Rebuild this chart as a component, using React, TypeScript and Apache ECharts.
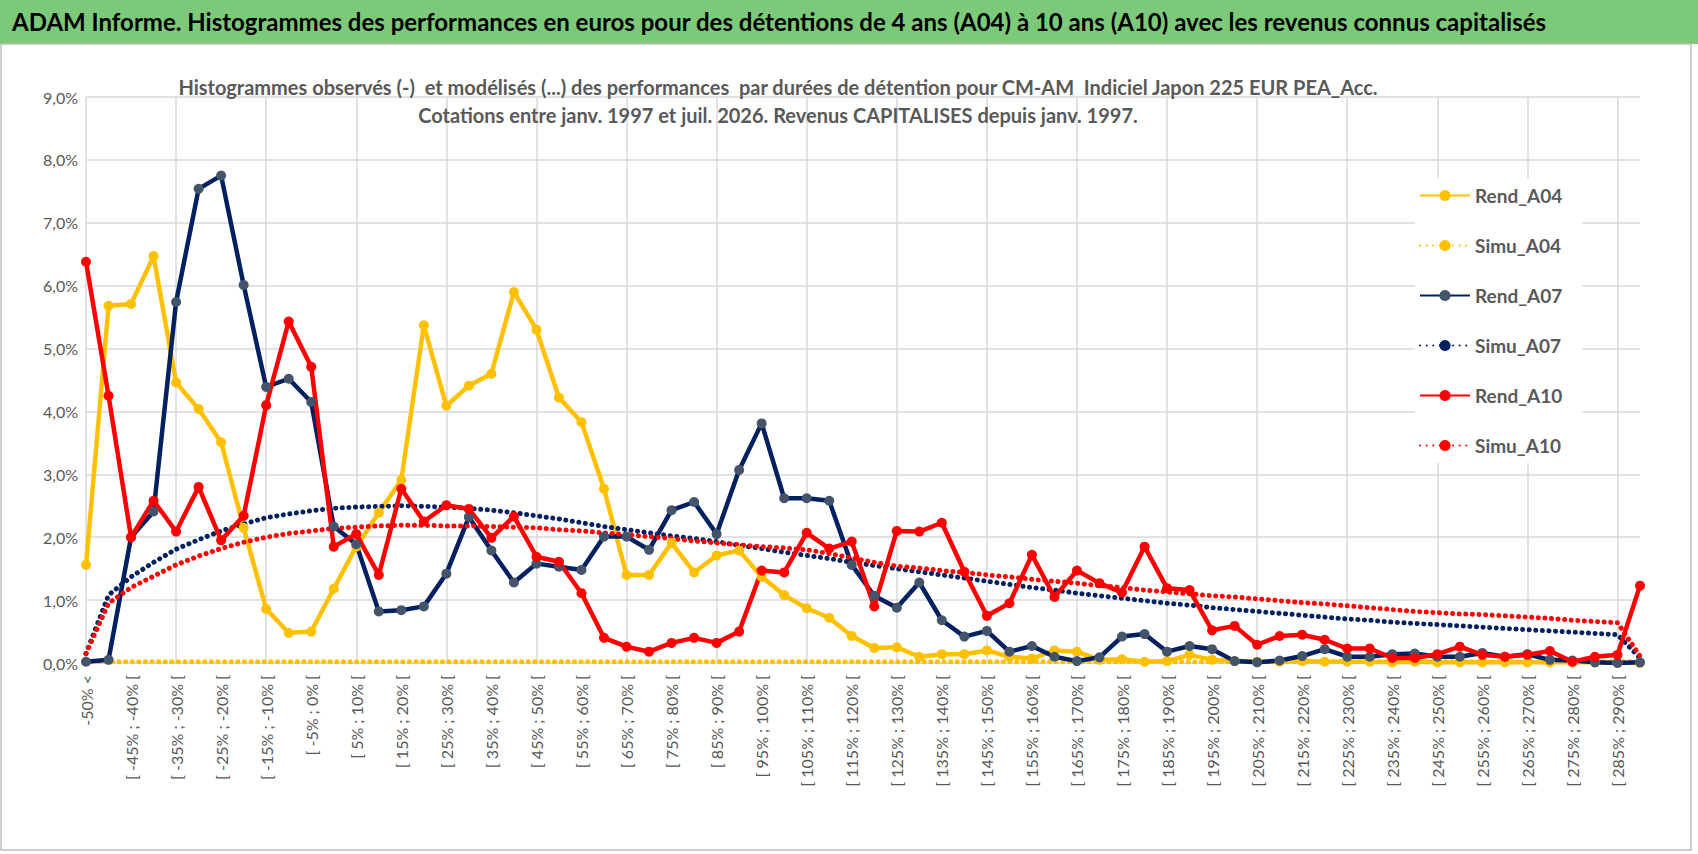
import React, { useEffect, useRef } from 'react';
import * as echarts from 'echarts';

// one class every 5 %, first one is "-50% <"
const categories: string[] = ['-50% <'];
for (let k = 1; k < 70; k++) {
  categories.push('[ ' + (-55 + 5 * k) + '% ; ' + (-50 + 5 * k) + '% [');
}

const rendA04 = [
  1.56, 5.68, 5.71, 6.47, 4.46, 4.04, 3.51, 2.15, 0.86, 0.48, 0.5, 1.18, 1.85, 2.39, 2.91, 5.37,
  4.09, 4.41, 4.6, 5.9, 5.3, 4.22, 3.83, 2.77, 1.4, 1.4, 1.91, 1.44, 1.71, 1.79, 1.37, 1.08,
  0.87, 0.72, 0.43, 0.24, 0.25, 0.1, 0.14, 0.14, 0.2, 0.1, 0.07, 0.2, 0.18, 0.05, 0.06, 0.02,
  0.03, 0.13, 0.05, 0.03, 0.02, 0.02, 0.03, 0.02, 0.02, 0.02, 0.01, 0.02, 0.01, 0.01, 0.01, 0.01,
  0.01, 0.01, 0.01, 0.01, 0.0, 0.0,
];
const simuA04 = new Array(70).fill(0.02);
const rendA07 = [
  0.02, 0.05, 2.0, 2.41, 5.74, 7.54, 7.75, 6.01, 4.39, 4.52, 4.15, 2.17, 1.89, 0.82, 0.84, 0.9,
  1.42, 2.32, 1.79, 1.28, 1.58, 1.53, 1.48, 2.01, 2.01, 1.8, 2.43, 2.56, 2.05, 3.07, 3.81, 2.62,
  2.62, 2.58, 1.56, 1.07, 0.88, 1.28, 0.68, 0.42, 0.51, 0.18, 0.27, 0.1, 0.03, 0.09, 0.42, 0.46,
  0.18, 0.27, 0.22, 0.03, 0.01, 0.04, 0.11, 0.22, 0.1, 0.1, 0.14, 0.15, 0.1, 0.1, 0.16, 0.1,
  0.14, 0.05, 0.04, 0.01, 0.0, 0.01,
];
const simuA07 = [
  0.15, 1.08, 1.37, 1.6, 1.81, 1.96, 2.1, 2.21, 2.31, 2.37, 2.42, 2.46, 2.48, 2.49, 2.5, 2.49,
  2.48, 2.46, 2.43, 2.39, 2.34, 2.29, 2.23, 2.17, 2.12, 2.07, 2.02, 1.98, 1.93, 1.87, 1.82, 1.76,
  1.71, 1.66, 1.6, 1.55, 1.5, 1.45, 1.4, 1.35, 1.3, 1.25, 1.2, 1.16, 1.11, 1.07, 1.03, 0.99,
  0.95, 0.92, 0.88, 0.85, 0.82, 0.79, 0.76, 0.73, 0.7, 0.68, 0.65, 0.63, 0.61, 0.59, 0.57, 0.55,
  0.53, 0.51, 0.49, 0.47, 0.45, 0.08,
];
const rendA10 = [
  6.38, 4.25, 2.0, 2.58, 2.09, 2.8, 1.95, 2.34, 4.1, 5.43, 4.71, 1.85, 2.05, 1.4, 2.77, 2.25,
  2.51, 2.45, 1.99, 2.33, 1.69, 1.61, 1.11, 0.4, 0.26, 0.18, 0.32, 0.4, 0.32, 0.5, 1.47, 1.44,
  2.07, 1.82, 1.93, 0.9, 2.1, 2.09, 2.23, 1.45, 0.75, 0.95, 1.72, 1.05, 1.47, 1.27, 1.12, 1.85,
  1.19, 1.16, 0.52, 0.59, 0.29, 0.43, 0.45, 0.37, 0.23, 0.23, 0.08, 0.08, 0.14, 0.26, 0.13, 0.1,
  0.13, 0.19, 0.02, 0.1, 0.13, 1.23,
];
const simuA10 = [
  0.15, 0.95, 1.2, 1.38, 1.56, 1.7, 1.82, 1.92, 2.0, 2.06, 2.1, 2.14, 2.16, 2.18, 2.19, 2.19,
  2.18, 2.18, 2.17, 2.16, 2.15, 2.12, 2.1, 2.07, 2.04, 2.01, 1.98, 1.94, 1.91, 1.88, 1.85, 1.83,
  1.8, 1.74, 1.67, 1.6, 1.54, 1.51, 1.47, 1.44, 1.4, 1.37, 1.33, 1.3, 1.27, 1.23, 1.2, 1.16,
  1.13, 1.1, 1.07, 1.05, 1.02, 0.99, 0.96, 0.94, 0.91, 0.88, 0.85, 0.82, 0.8, 0.78, 0.77, 0.75,
  0.73, 0.71, 0.68, 0.66, 0.64, 0.11,
];

const YELLOW = '#FFC000';
const NAVY = '#002060';
const RED = '#FF0000';
const FONT = 'Lato';

const rend = (name: string, data: number[], color: string, marker: string) => ({
  name,
  type: 'line',
  data,
  symbol: 'circle',
  symbolSize: 10,
  lineStyle: { color, width: 4.5 },
  itemStyle: { color: marker, borderWidth: 0 },
});

const simu = (name: string, data: number[], color: string) => ({
  name,
  type: 'line',
  data,
  symbol: 'none',
  lineStyle: { color, width: 5, type: [0.1, 6.5], cap: 'round' },
  itemStyle: { color },
});

const App: React.FC = () => {
  const ref = useRef<HTMLDivElement>(null);

  useEffect(() => {
    if (!ref.current) return;
    const chart = echarts.init(ref.current, null, { renderer: 'svg' });
    chart.setOption({
      animation: false,
      backgroundColor: '#fff',
      graphic: [
        { type: 'rect', shape: { x: 0, y: 0, width: 1698, height: 44 }, style: { fill: '#7DC97A' } },
        { type: 'rect', shape: { x: 1, y: 44, width: 1690, height: 806 }, style: { fill: 'none', stroke: '#bfbfbf', lineWidth: 1.5 } },
        {
          type: 'text', left: 12, top: 9,
          style: {
            text: 'ADAM Informe. Histogrammes des performances en euros pour des détentions de 4 ans (A04) à 10 ans (A10) avec les revenus connus capitalisés',
            font: 'bold 24px Lato', fill: '#000',
          },
        },
      ],
      title: {
        text: 'Histogrammes observés (-)  et modélisés (...) des performances  par durées de détention pour CM-AM  Indiciel Japon 225 EUR PEA_Acc.\nCotations entre janv. 1997 et juil. 2026. Revenus CAPITALISES depuis janv. 1997.',
        left: 773, top: 68, textAlign: 'center',
        textStyle: { fontFamily: FONT, fontWeight: 'bold', fontSize: 20, color: '#595959', lineHeight: 28 },
      },
      legend: {
        orient: 'vertical', left: 1415, top: 178, itemGap: 31, itemWidth: 50, itemHeight: 14,
        backgroundColor: '#fff', padding: [8, 20, 8, 4],
        textStyle: { fontFamily: FONT, fontWeight: 'bold', fontSize: 19, color: '#595959' },
        data: ['Rend_A04', 'Simu_A04', 'Rend_A07', 'Simu_A07', 'Rend_A10', 'Simu_A10'],
      },
      grid: { left: 86, right: 58, top: 97, bottom: 191, containLabel: false },
      xAxis: {
        type: 'category', data: categories, boundaryGap: false,
        axisLine: { lineStyle: { color: '#d9d9d9' } },
        axisTick: { show: false },
        axisLabel: { interval: 1, rotate: 90, color: '#595959', fontSize: 16, fontFamily: FONT, margin: 12 },
        splitLine: { show: true, interval: 3, lineStyle: { color: '#d9d9d9', width: 1.5 } },
      },
      yAxis: {
        type: 'value', min: 0, max: 9, interval: 1,
        axisLine: { show: false },
        axisLabel: { color: '#595959', fontSize: 16, fontFamily: FONT, formatter: (v: number) => v.toFixed(1).replace('.', ',') + '%' },
        splitLine: { lineStyle: { color: '#d9d9d9', width: 1.5 } },
      },
      series: [
        rend('Rend_A04', rendA04, YELLOW, YELLOW),
        simu('Simu_A04', simuA04, YELLOW),
        rend('Rend_A07', rendA07, NAVY, '#44546A'),
        simu('Simu_A07', simuA07, NAVY),
        rend('Rend_A10', rendA10, RED, RED),
        simu('Simu_A10', simuA10, RED),
      ],
    });
    return () => chart.dispose();
  }, []);

  return <div ref={ref} style={{ position: 'absolute', left: 0, top: 0, width: 1698, height: 854 }} />;
};

export default App;
